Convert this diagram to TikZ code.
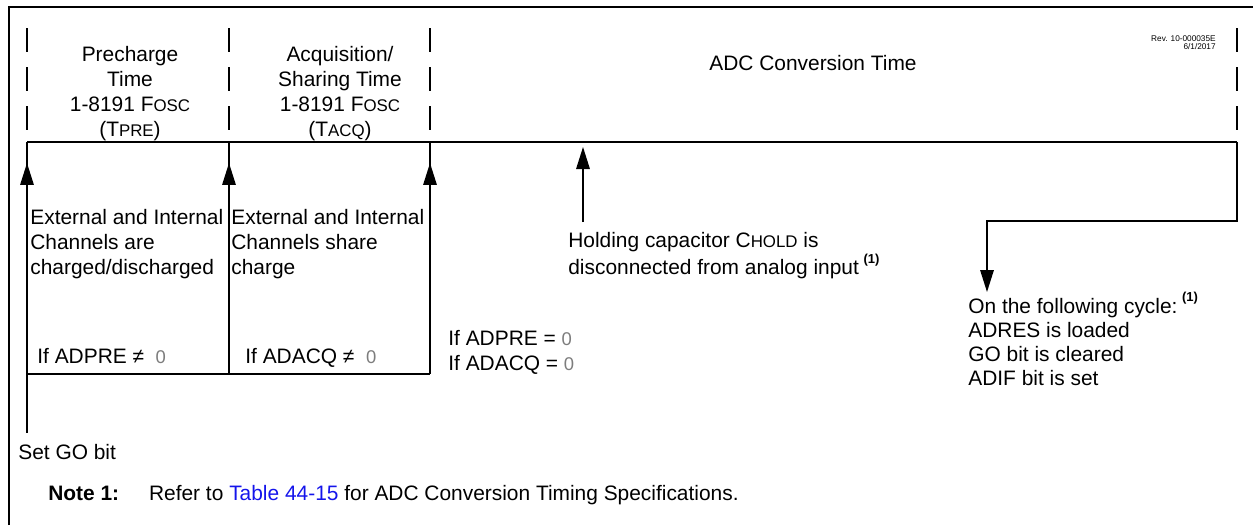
\documentclass[tikz,border=0pt]{standalone}
\usepackage{fontspec}
\setmainfont{Liberation Sans}
\usetikzlibrary{arrows.meta}
\definecolor{zeroGray}{RGB}{125,125,125}
\definecolor{linkBlue}{RGB}{20,20,235}
\newcommand{\smc}[1]{{\fontsize{9.6}{10}\selectfont #1}}
\newcommand{\noteref}{\hspace{2.6pt}\raisebox{6.6pt}{\fontsize{7.4}{8}\selectfont\bfseries (1)}}
\newcommand{\gz}{{\color{zeroGray}\fontsize{10.5}{12}\selectfont 0}}

\begin{document}
\begin{tikzpicture}[x=0.02cm,y=-0.02cm,
    lbl/.style={inner sep=0pt,font=\fontsize{11.9}{14.2}\selectfont},
    blk/.style={lbl,align=left,anchor=north west},
    hdr/.style={lbl,align=center,anchor=north},
    ln/.style={line width=0.9pt},
    arr/.style={ln,-{Triangle[length=0.44cm,width=0.27cm]}},
    sep/.style={line width=0.9pt,dash pattern=on 13.7pt off 8.5pt}]
  \useasboundingbox (0,0) rectangle (1253,525);
  \draw[line width=1.7pt] (9,525) -- (9,7) -- (1253,7);

  \coordinate (t0) at (27,142);
  \coordinate (t1) at (229,142);
  \coordinate (t2) at (430,142);
  \coordinate (t3) at (1237,142);
  \coordinate (b0) at (27,374);
  \coordinate (b1) at (229,374);
  \coordinate (b2) at (430,374);
  \coordinate (go) at (27,433);
  \coordinate (holdtip) at (583,147);
  \coordinate (holdfoot) at (583,222);
  \coordinate (bend) at (987,221);
  \coordinate (cyctip) at (987,292);

  \foreach \x in {27,229,430,1237}
    \draw[sep] (\x,28) -- (\x,131);

  \node[hdr] (pre) at (130,46) {Precharge\\Time\\1-8191 F\smc{OSC}\\(T\smc{PRE})};
  \node[hdr] (acq) at (340,46) {Acquisition/\\Sharing Time\\1-8191 F\smc{OSC}\\(T\smc{ACQ})};
  \node[lbl,anchor=base] (conv) at (813,70) {ADC Conversion Time};
  \node[inner sep=0pt,align=right,anchor=north east,font=\fontsize{4.7}{4.6}\selectfont]
    (rev) at (1216,35) {Rev. 10-000035E\\6/1/2017};

  \draw[ln] (t0) -- (t3);
  \draw[ln] (t0) -- (go);
  \draw[ln] (b0) -- (b2);
  \draw[ln] (t1) -- (b1);
  \draw[ln] (t2) -- (b2);
  \foreach \c in {t0,t1,t2}
    \draw[arr] ([yshift=-1.2cm]\c) -- ([yshift=-0.42cm]\c);
  \draw[arr] (holdfoot) -- (holdtip);
  \draw[arr] (t3) |- (bend) -- (cyctip);

  \node[blk] (chg) at (30,209) {External and Internal\\Channels are\\charged/discharged};
  \node[blk] (shr) at (231,209) {External and Internal\\Channels share\\charge};
  \node[lbl,anchor=base west] (ifpre) at (37,363) {If ADPRE ≠\ \ \gz};
  \node[lbl,anchor=base west] (ifacq) at (245,363) {If ADACQ ≠\ \ \gz};
  \node[blk] (ifzero) at (448,330) {If ADPRE = \gz\\If ADACQ = \gz};
  \node[blk] (hold) at (568,232) {Holding capacitor C\smc{HOLD} is\\disconnected from analog input\noteref};
  \node[blk,font=\fontsize{11.9}{13.7}\selectfont] (cyc) at (968,292)
    {On the following cycle:\noteref\\ADRES is loaded\\GO bit is cleared\\ADIF bit is set};
  \node[lbl,anchor=base west] (setgo) at (18,459) {Set GO bit};
  \node[lbl,anchor=base west] (note) at (48,500)
    {\textbf{Note 1:}\hspace{17pt}Refer to \textcolor{linkBlue}{Table 44-15} for ADC Conversion Timing Specifications.};
\end{tikzpicture}
\end{document}
